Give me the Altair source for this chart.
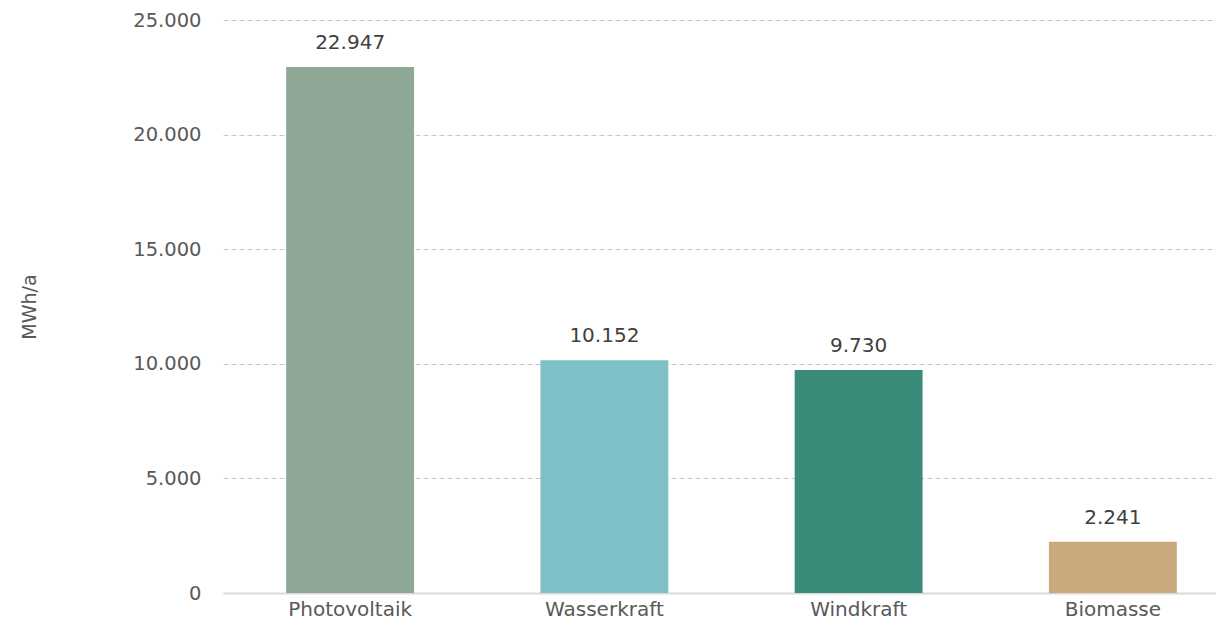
import altair as alt
import pandas as pd

categories = ["Photovoltaik", "Wasserkraft", "Windkraft", "Biomasse"]
values = [22947, 10152, 9730, 2241]
colors = ["#8fa896", "#7fbfc6", "#3a8c7a", "#c8aa7c"]
y_ticks = [0, 5000, 10000, 15000, 20000, 25000]

df = pd.DataFrame({"cat": categories, "val": values})

FONT = "DejaVu Sans"

x = alt.X("cat:N", sort=categories, title=None,
          scale=alt.Scale(range=[0, 1017], paddingInner=0.497, paddingOuter=0.2485),
          axis=alt.Axis(labelAngle=0, ticks=False, labelPadding=6, labelFontSize=20,
                        labelColor="#595959", labelFont=FONT, domainColor="#d9d9d9",
                        domainWidth=2, grid=False))
y = alt.Y("val:Q", title="MWh/a",
          scale=alt.Scale(domain=[0, 25000], nice=False),
          axis=alt.Axis(values=y_ticks,
                        labelExpr="replace(format(datum.value, ','), ',', '.')",
                        labelFontSize=19.5, labelColor="#595959", labelFont=FONT,
                        labelPadding=22, ticks=False, domain=False,
                        gridColor="#c8c8c8", gridDash=[5, 3], gridWidth=1,
                        titleFont=FONT, titleFontSize=19, titleFontWeight="normal",
                        titleColor="#595959", titlePadding=93))

bars = alt.Chart(df).mark_bar().encode(
    x=x, y=y,
    color=alt.Color("cat:N", sort=categories, legend=None,
                    scale=alt.Scale(domain=categories, range=colors)),
)

text = alt.Chart(df).transform_calculate(
    lbl="replace(format(datum.val, ','), ',', '.')"
).mark_text(dy=-24, fontSize=20, font=FONT, color="#404040").encode(
    x=alt.X("cat:N", sort=categories),
    y="val:Q",
    text="lbl:N",
)

chart = alt.layer(bars, text).properties(
    width=993, height=573,
    autosize=alt.AutoSizeParams(type="none"),
    padding={"left": 215, "top": 12, "right": 0, "bottom": 31},
).configure_view(stroke=None)

chart.save("out.html", embed_options={"renderer": "svg", "actions": False})
